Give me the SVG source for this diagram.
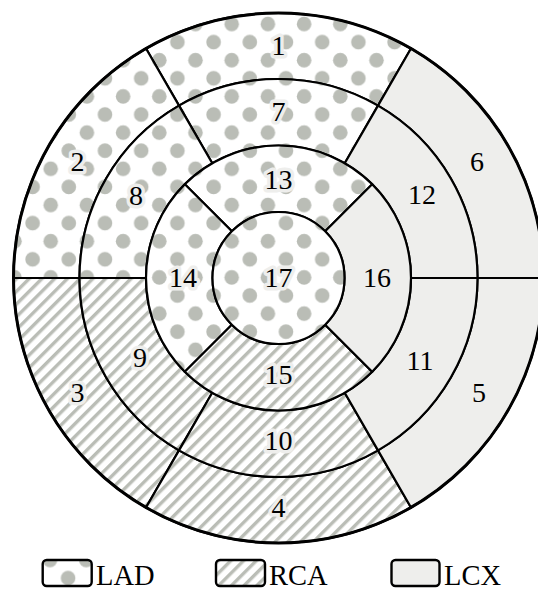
<svg xmlns="http://www.w3.org/2000/svg" width="538" height="590" viewBox="0 0 538 590">
<style>
.seg{stroke:#000;stroke-width:2.2;stroke-linejoin:round}
.lad{fill:url(#dots)}
.rca{fill:url(#hatch)}
.lcx{fill:#eeeeec}
.lbl{font-family:"Liberation Serif","DejaVu Serif",serif;font-size:28px;fill:#000;text-anchor:middle;paint-order:stroke;stroke:#eeeeec;stroke-width:7;stroke-linejoin:round}
.leg{font-family:"Liberation Serif","DejaVu Serif",serif;font-size:28.5px;fill:#000}
.box{stroke:#000;stroke-width:2.4}
</style>
<defs>
<pattern id="dots" patternUnits="userSpaceOnUse" x="222.65" y="195.95" width="36.2" height="36.2">
<rect width="36.2" height="36.2" fill="#fff"/>
<circle cx="9.05" cy="9.05" r="7.3" fill="#babdb6"/>
<circle cx="27.15" cy="27.15" r="7.3" fill="#babdb6"/>
</pattern>
<pattern id="dotsL" patternUnits="userSpaceOnUse" x="40.95" y="550.95" width="36.2" height="36.2">
<rect width="36.2" height="36.2" fill="#fff"/>
<circle cx="9.05" cy="9.05" r="7.3" fill="#babdb6"/>
<circle cx="27.15" cy="27.15" r="7.3" fill="#babdb6"/>
</pattern>
<pattern id="hatch" patternUnits="userSpaceOnUse" width="9" height="9" patternTransform="rotate(45)">
<rect width="9" height="9" fill="#fff"/>
<rect x="0" y="0" width="3.4" height="9" fill="#babdb6"/>
</pattern>
</defs>
<g id="seg1"><path class="seg lad" d="M411 48.51A265 265 0 0 0 146 48.51L179 105.66A199 199 0 0 1 378 105.66Z"/><text class="lbl" x="278.5" y="55">1</text></g>
<g id="seg2"><path class="seg lad" d="M146 48.51A265 265 0 0 0 13.5 278L79.5 278A199 199 0 0 1 179 105.66Z"/><text class="lbl" x="77.5" y="171">2</text></g>
<g id="seg3"><path class="seg rca" d="M13.5 278A265 265 0 0 0 146 507.49L179 450.34A199 199 0 0 1 79.5 278Z"/><text class="lbl" x="77.5" y="402">3</text></g>
<g id="seg4"><path class="seg rca" d="M146 507.49A265 265 0 0 0 411 507.49L378 450.34A199 199 0 0 1 179 450.34Z"/><text class="lbl" x="278.5" y="517">4</text></g>
<g id="seg5"><path class="seg lcx" d="M411 507.49A265 265 0 0 0 543.5 278L477.5 278A199 199 0 0 1 378 450.34Z"/><text class="lbl" x="479" y="402">5</text></g>
<g id="seg6"><path class="seg lcx" d="M543.5 278A265 265 0 0 0 411 48.51L378 105.66A199 199 0 0 1 477.5 278Z"/><text class="lbl" x="477" y="171">6</text></g>
<g id="seg7"><path class="seg lad" d="M378 105.66A199 199 0 0 0 179 105.66L212.25 163.25A132.5 132.5 0 0 1 344.75 163.25Z"/><text class="lbl" x="278.5" y="121">7</text></g>
<g id="seg8"><path class="seg lad" d="M179 105.66A199 199 0 0 0 79.5 278L146 278A132.5 132.5 0 0 1 212.25 163.25Z"/><text class="lbl" x="136" y="205">8</text></g>
<g id="seg9"><path class="seg rca" d="M79.5 278A199 199 0 0 0 179 450.34L212.25 392.75A132.5 132.5 0 0 1 146 278Z"/><text class="lbl" x="140" y="367">9</text></g>
<g id="seg10"><path class="seg rca" d="M179 450.34A199 199 0 0 0 378 450.34L344.75 392.75A132.5 132.5 0 0 1 212.25 392.75Z"/><text class="lbl" x="278.5" y="450">10</text></g>
<g id="seg11"><path class="seg lcx" d="M378 450.34A199 199 0 0 0 477.5 278L411 278A132.5 132.5 0 0 1 344.75 392.75Z"/><text class="lbl" x="420" y="370">11</text></g>
<g id="seg12"><path class="seg lcx" d="M477.5 278A199 199 0 0 0 378 105.66L344.75 163.25A132.5 132.5 0 0 1 411 278Z"/><text class="lbl" x="422" y="204">12</text></g>
<g id="seg13"><path class="seg lad" d="M372.19 184.31A132.5 132.5 0 0 0 184.81 184.31L231.83 231.33A66 66 0 0 1 325.17 231.33Z"/><text class="lbl" x="278.5" y="189">13</text></g>
<g id="seg14"><path class="seg lad" d="M184.81 184.31A132.5 132.5 0 0 0 184.81 371.69L231.83 324.67A66 66 0 0 1 231.83 231.33Z"/><text class="lbl" x="183" y="287">14</text></g>
<g id="seg15"><path class="seg rca" d="M184.81 371.69A132.5 132.5 0 0 0 372.19 371.69L325.17 324.67A66 66 0 0 1 231.83 324.67Z"/><text class="lbl" x="278.5" y="384">15</text></g>
<g id="seg16"><path class="seg lcx" d="M372.19 371.69A132.5 132.5 0 0 0 372.19 184.31L325.17 231.33A66 66 0 0 1 325.17 324.67Z"/><text class="lbl" x="377" y="287">16</text></g>
<g id="seg17"><circle class="seg lad" cx="278.5" cy="278" r="66"/><text class="lbl" x="278.5" y="287">17</text></g>
<g id="outline"><circle cx="278.5" cy="278" r="265" fill="none" stroke="#000" stroke-width="3"/></g>
<g id="legend">
<g id="leg-lad"><rect class="box" x="42.7" y="560" width="49" height="26" rx="4" fill="url(#dotsL)"/><text class="leg" x="96" y="584.5">LAD</text></g>
<g id="leg-rca"><rect class="box" x="216" y="560" width="49" height="26" rx="4" fill="url(#hatch)"/><text class="leg" x="269" y="584.5">RCA</text></g>
<g id="leg-lcx"><rect class="box" x="391.5" y="560" width="48" height="26" rx="4" fill="#eeeeec"/><text class="leg" x="444" y="584.5">LCX</text></g>
</g>
</svg>
